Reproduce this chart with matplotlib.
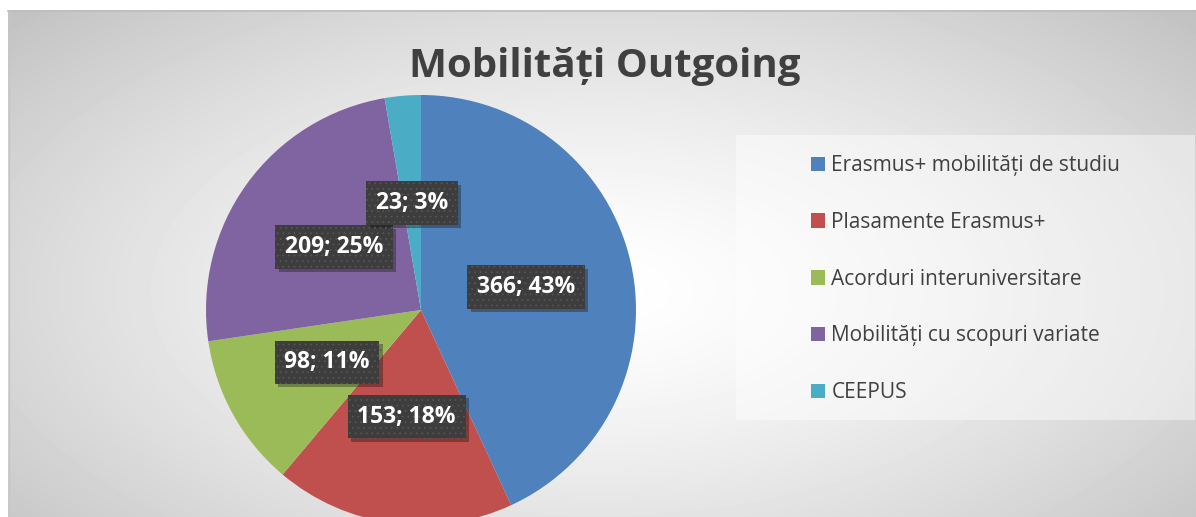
import numpy as np
import matplotlib
matplotlib.use('Agg')
import matplotlib.pyplot as plt
from matplotlib.patches import Patch, Rectangle
from matplotlib.lines import Line2D
import matplotlib.patheffects as pe

plt.rcParams['font.family'] = ['Open Sans', 'DejaVu Sans']
plt.rcParams['hatch.linewidth'] = 0.6

#.........data...........................
categories = ['Erasmus+ mobilități de studiu', 'Plasamente Erasmus+',
              'Acorduri interuniversitare', 'Mobilități cu scopuri variate', 'CEEPUS']
values = [366, 153, 98, 209, 23]
percents = [43, 18, 11, 25, 3]
colors = ['#4F81BD', '#C0504D', '#9BBB59', '#8064A2', '#4BACC6']
title = 'Mobilități Outgoing'

W, H = 1196, 517
fig = plt.figure(figsize=(W / 100, H / 100), dpi=100)


def fx(px):
    return px / W


def fy(py):
    return 1 - py / H


#.........radial grey background of chart area...........................
bg = fig.add_axes([fx(8), 0, 1 - fx(8), fy(10)])
yy, xx = np.mgrid[10:517, 8:1196]
d = np.sqrt(((xx - 600) / 600.0) ** 2 + ((yy - 290) / 300.0) ** 2)
g = 255 - 62 * np.clip(d / 1.36, 0, 1) ** 1.4
bg.imshow(g, cmap='gray', vmin=0, vmax=255, aspect='auto', interpolation='bilinear')
bg.axis('off')
fig.add_artist(Line2D([fx(8), 1], [fy(10.5), fy(10.5)], color='#bdbdbd', lw=1.2))
fig.add_artist(Line2D([fx(8.5), fx(8.5)], [0, fy(10)], color='#c6c6c6', lw=1.0))

# legend box (white wash over the gradient)
fig.add_artist(Rectangle((fx(736), fy(420)), fx(1195) - fx(736), (420 - 135) / H,
                         transform=fig.transFigure, facecolor='white', alpha=0.45,
                         edgecolor='none', zorder=1))

#.........pie...........................
ax = fig.add_axes([fx(421 - 215), fy(310 + 215), 430 / W, 430 / H])
wedges, _ = ax.pie(values, colors=colors, startangle=90, counterclock=False, radius=1)
ax.set_xlim(-1, 1)
ax.set_ylim(-1, 1)
ax.set_aspect('equal')

for w, v, p in zip(wedges, values, percents):
    ang = np.deg2rad((w.theta1 + w.theta2) / 2)
    t = ax.text(0.5 * np.cos(ang), 0.5 * np.sin(ang), f'{v}; {p}%',
                ha='center', va='center', color='white', fontsize=16.5, fontweight='bold',
                bbox=dict(boxstyle='square,pad=0.42', facecolor='#3d3d3d',
                          edgecolor='#555555', linewidth=0, hatch='...'))
    t.get_bbox_patch().set_path_effects([
        pe.withSimplePatchShadow(offset=(2.5, -2.5), shadow_rgbFace='black', alpha=0.3),
        pe.Normal()])

#.........title and legend...........................
fig.text(fx(605), fy(77), title, ha='center', va='baseline', fontsize=29,
         fontweight='bold', color='#404040')

handles = [Patch(facecolor=c, edgecolor='none') for c in colors]
fig.legend(handles, categories, loc='upper left', bbox_to_anchor=(fx(811), fy(155)),
           frameon=False, fontsize=15, labelcolor='#404040',
           handlelength=0.68, handleheight=0.68, handletextpad=0.3,
           labelspacing=1.72, borderaxespad=0, borderpad=0)

fig.savefig('out.png', dpi=100)
